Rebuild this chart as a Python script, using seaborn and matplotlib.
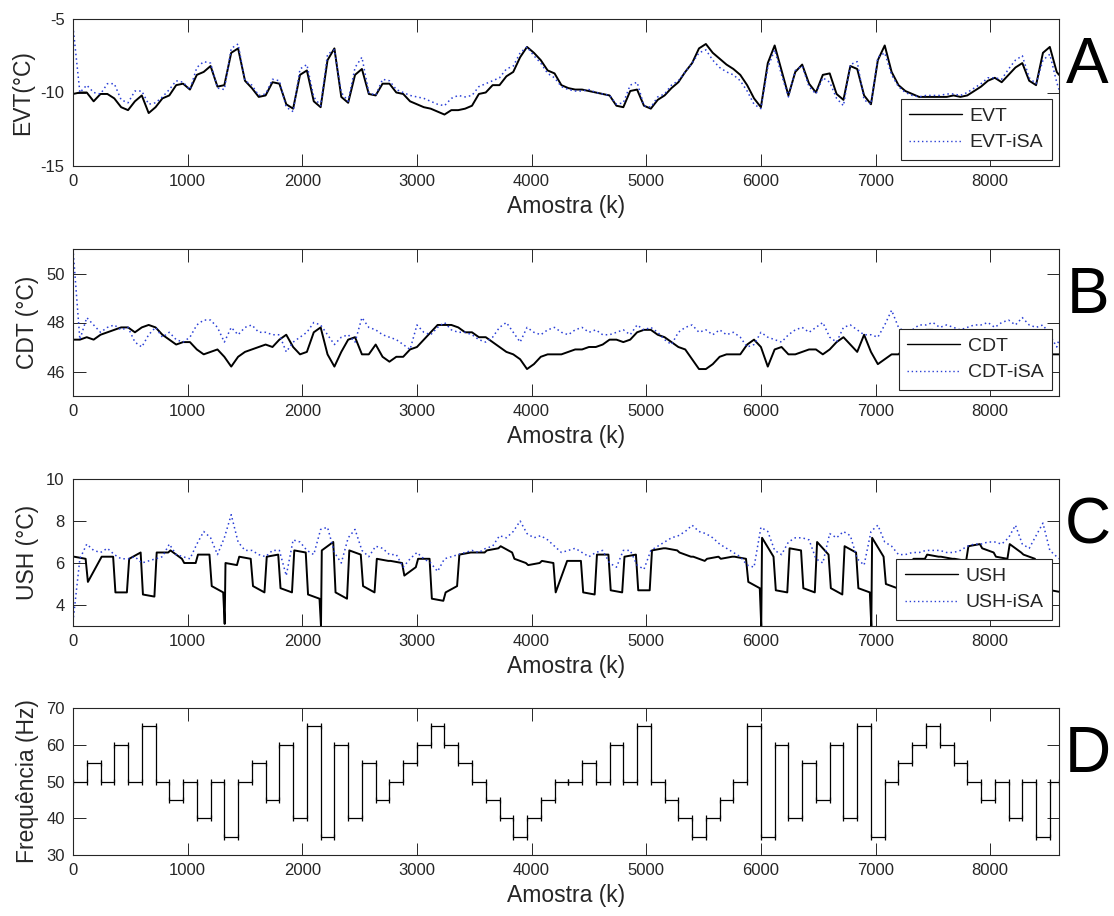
import numpy as np
import matplotlib
matplotlib.use("Agg")
import matplotlib.pyplot as plt
import seaborn as sns

# ---------------- data ----------------
# sample grid (k): every 60 samples plus the final sample
amostra = list(range(0, 8581, 60)) + [8600]

evt = [-10.1, -10.0, -10.0, -10.6, -10.1, -10.1, -10.4, -11.0, -11.2, -10.6,
       -10.2, -11.4, -11.0, -10.4, -10.2, -9.5, -9.4, -9.8, -8.8, -8.6,
       -8.2, -9.6, -9.5, -7.3, -7.0, -9.2, -9.7, -10.3, -10.2, -9.3,
       -9.4, -10.8, -11.1, -8.8, -8.5, -10.6, -11.0, -7.8, -7.0, -10.3,
       -10.7, -8.8, -8.4, -10.1, -10.2, -9.4, -9.4, -10.0, -10.1, -10.6,
       -10.8, -11.0, -11.1, -11.3, -11.5, -11.2, -11.2, -11.1, -10.9, -10.1,
       -10.0, -9.5, -9.5, -8.9, -8.6, -7.6, -6.9, -7.3, -7.8, -8.5,
       -8.7, -9.5, -9.7, -9.8, -9.8, -9.9, -10.0, -10.1, -10.2, -10.9,
       -11.0, -9.9, -9.8, -10.9, -11.1, -10.5, -10.2, -9.7, -9.3, -8.6,
       -8.0, -7.0, -6.7, -7.3, -7.7, -8.1, -8.4, -8.8, -9.5, -10.4,
       -11.0, -8.0, -6.8, -8.5, -10.2, -8.6, -8.1, -9.4, -10.0, -8.8,
       -8.7, -10.1, -10.5, -8.2, -8.4, -10.2, -10.8, -7.8, -6.8, -8.6,
       -9.5, -9.9, -10.1, -10.3, -10.3, -10.3, -10.3, -10.3, -10.2, -10.3,
       -10.2, -9.9, -9.6, -9.2, -9.0, -9.3, -8.8, -8.3, -8.0, -9.2,
       -9.5, -7.3, -6.9, -8.6, -8.8]

evt_isa = [-5.5, -10.0, -9.5, -10.0, -10.1, -9.4, -9.4, -10.5, -10.7, -9.9,
           -9.9, -10.8, -10.7, -10.3, -9.8, -9.2, -9.3, -9.8, -8.3, -7.9,
           -8.0, -9.7, -9.8, -7.0, -6.7, -9.2, -9.5, -10.2, -10.1, -9.1,
           -9.2, -11.0, -11.3, -8.4, -8.1, -10.3, -10.9, -7.4, -7.1, -10.0,
           -10.6, -8.3, -7.6, -10.0, -10.2, -9.1, -9.2, -9.8, -10.0, -10.2,
           -10.3, -10.4, -10.6, -10.8, -10.9, -10.4, -10.2, -10.3, -10.2, -9.6,
           -9.4, -9.2, -9.0, -8.4, -8.2, -7.3, -6.9, -7.5, -8.0, -8.7,
           -9.0, -9.6, -9.8, -9.9, -9.9, -9.8, -10.0, -10.1, -10.2, -10.8,
           -10.7, -9.5, -9.3, -10.9, -11.0, -10.3, -10.1, -9.5, -9.2, -8.6,
           -8.0, -7.3, -7.1, -7.8, -8.3, -8.6, -8.8, -9.2, -9.9, -10.8,
           -11.1, -8.3, -7.1, -8.8, -10.3, -8.5, -8.2, -9.6, -10.1, -9.0,
           -9.3, -10.4, -10.9, -8.1, -7.9, -10.5, -10.8, -7.6, -7.3, -8.8,
           -9.6, -10.0, -10.2, -10.3, -10.2, -10.2, -10.2, -10.1, -10.1, -10.2,
           -10.0, -9.7, -9.4, -9.0, -9.0, -9.1, -8.4, -7.8, -7.5, -9.0,
           -9.4, -7.8, -7.4, -9.3, -9.8]

cdt = [47.3, 47.3, 47.4, 47.3, 47.5, 47.6, 47.7, 47.8, 47.8, 47.6,
       47.8, 47.9, 47.8, 47.5, 47.3, 47.1, 47.2, 47.2, 46.9, 46.7,
       46.8, 46.9, 46.6, 46.2, 46.6, 46.8, 46.9, 47.0, 47.1, 47.0,
       47.3, 47.5, 47.0, 46.7, 46.8, 47.6, 47.8, 46.7, 46.2, 46.8,
       47.3, 47.4, 46.7, 46.7, 47.1, 46.6, 46.4, 46.6, 46.6, 46.9,
       47.0, 47.3, 47.6, 47.9, 47.9, 47.9, 47.8, 47.6, 47.6, 47.4,
       47.4, 47.2, 47.0, 46.8, 46.7, 46.5, 46.1, 46.3, 46.6, 46.7,
       46.7, 46.7, 46.8, 46.9, 46.9, 47.0, 47.0, 47.1, 47.3, 47.3,
       47.2, 47.3, 47.6, 47.7, 47.7, 47.5, 47.4, 47.2, 47.0, 46.9,
       46.5, 46.1, 46.1, 46.3, 46.6, 46.7, 46.7, 46.7, 47.1, 47.3,
       47.0, 46.2, 46.9, 47.0, 46.7, 46.7, 46.8, 46.9, 46.9, 46.7,
       46.9, 47.2, 47.4, 47.1, 46.8, 47.5, 46.8, 46.3, 46.5, 46.7,
       46.7, 47.0, 47.3, 47.6, 47.7, 47.7, 47.6, 47.5, 47.4, 47.2,
       47.1, 47.0, 47.0, 47.1, 47.2, 47.3, 47.2, 47.0, 47.1, 47.2,
       46.9, 46.8, 46.7, 46.7, 46.7]

cdt_isa = [51.0, 47.3, 48.2, 47.9, 47.6, 47.8, 47.9, 47.7, 47.8, 47.2,
           47.0, 47.5, 47.8, 47.4, 47.6, 47.3, 47.2, 47.4, 47.9, 48.1,
           48.1, 47.8, 47.2, 47.8, 47.5, 47.8, 47.9, 47.6, 47.6, 47.5,
           47.5, 46.8, 47.2, 47.4, 47.6, 48.0, 47.9, 47.5, 47.1, 47.4,
           47.5, 47.2, 48.2, 47.8, 47.7, 47.5, 47.4, 47.3, 47.1, 46.9,
           47.9, 47.6, 47.5, 47.8, 48.0, 47.7, 47.6, 47.6, 47.5, 47.3,
           47.2, 47.4, 47.8, 48.0, 47.6, 47.2, 47.8, 47.6, 47.5, 47.7,
           47.8, 47.6, 47.5, 47.7, 47.8, 47.6, 47.7, 47.5, 47.5, 47.6,
           47.7, 47.5, 47.9, 47.7, 47.8, 47.6, 47.3, 47.1, 47.6, 47.8,
           47.9, 47.6, 47.7, 47.5, 47.7, 47.5, 47.6, 47.4, 47.0, 47.1,
           47.6, 47.4, 47.3, 47.2, 47.5, 47.7, 47.8, 47.6, 47.8, 48.0,
           47.4, 47.2, 47.8, 47.9, 47.7, 47.5, 47.5, 47.4, 47.9, 48.5,
           47.8, 47.6, 47.7, 47.9, 47.9, 48.0, 47.8, 47.9, 47.8, 47.7,
           47.8, 47.9, 47.9, 48.0, 47.8, 48.0, 48.1, 47.9, 48.2, 47.9,
           47.8, 47.9, 47.5, 47.0, 47.3]

# USH: two readings per 120-sample block (near its start and near its end)
ush_k = [k for s in range(0, 8521, 120) for k in (s + 10, s + 110)]
ush = [6.3, 6.2, 5.1, 6.1, 6.3, 6.3, 4.6, 4.6, 6.2, 6.5,
       4.5, 4.4, 6.5, 6.5, 6.6, 6.2, 6.0, 6.0, 6.4, 6.4,
       4.9, 4.6, 6.0, 5.9, 6.3, 6.2, 4.9, 4.6, 6.3, 6.4,
       4.8, 4.6, 6.6, 6.5, 4.5, 4.3, 6.6, 7.0, 4.6, 4.3,
       6.6, 6.4, 4.9, 4.6, 6.2, 6.1, 6.1, 6.0, 5.4, 5.8,
       6.2, 6.2, 4.3, 4.2, 4.6, 4.9, 6.4, 6.5, 6.5, 6.5,
       6.6, 6.7, 6.8, 6.5, 6.2, 6.0, 5.9, 6.0, 6.1, 6.0,
       4.6, 6.1, 6.1, 6.1, 4.6, 4.5, 6.4, 6.4, 4.7, 4.6,
       6.3, 6.4, 4.7, 4.7, 6.6, 6.7, 6.7, 6.6, 6.5, 6.3,
       6.3, 6.1, 6.2, 6.3, 6.2, 6.3, 6.3, 6.2, 5.1, 4.8,
       7.2, 6.3, 4.7, 4.6, 6.7, 6.6, 4.8, 4.6, 7.0, 6.4,
       4.8, 4.5, 6.8, 6.5, 4.8, 4.6, 7.2, 6.3, 5.0, 4.8,
       4.8, 4.7, 6.2, 6.2, 6.4, 6.3, 6.3, 6.2, 6.2, 6.1,
       6.8, 6.9, 6.7, 6.5, 6.3, 6.2, 6.9, 6.5, 6.4, 6.2,
       5.0, 4.8, 4.7, 4.6]
# short downward spikes of USH at the 35 Hz steps
ush_pico_k = [1323, 2163, 6003, 6963]
ush_pico = [3.1, 3.0, 3.0, 3.0]

ush_isa = [3.2, 6.2, 6.9, 6.6, 6.5, 6.7, 6.4, 6.2, 6.2, 6.3,
           6.0, 6.1, 6.2, 6.3, 6.9, 6.4, 6.3, 6.2, 6.9, 7.5,
           7.2, 6.4, 7.2, 8.3, 7.0, 6.6, 6.6, 6.4, 6.3, 6.6,
           6.6, 5.4, 7.1, 7.0, 6.6, 6.4, 7.6, 7.7, 6.5, 6.0,
           7.2, 7.6, 6.6, 6.3, 6.8, 6.7, 6.4, 6.4, 5.8, 6.2,
           6.5, 6.2, 6.0, 5.6, 6.2, 6.3, 6.4, 6.5, 6.6, 6.5,
           6.7, 6.8, 7.3, 7.2, 7.5, 8.0, 7.4, 7.2, 7.3, 7.1,
           6.8, 6.5, 6.6, 6.7, 6.5, 6.3, 6.5, 6.6, 6.0, 5.8,
           6.6, 6.6, 5.9, 5.7, 6.6, 6.8, 7.0, 7.2, 7.3, 7.5,
           7.8, 7.5, 7.4, 7.2, 6.9, 6.7, 6.5, 6.3, 5.9, 5.8,
           7.7, 7.5, 6.6, 6.4, 7.0, 7.2, 7.2, 7.1, 6.2, 6.0,
           7.4, 7.2, 7.5, 7.3, 6.2, 5.9, 7.5, 7.8, 7.0, 6.8,
           6.4, 6.4, 6.5, 6.5, 6.6, 6.6, 6.6, 6.5, 6.5, 6.6,
           6.8, 6.9, 6.9, 7.0, 7.0, 6.9, 7.2, 7.8, 6.9, 6.7,
           7.3, 7.9, 6.6, 6.3, 6.2]

# compressor frequency: one level per block of 120 samples
freq_inicio = list(range(0, 8521, 120))
freq = [50, 55, 50, 60, 50, 65, 50, 45, 50, 40, 50, 35, 50, 55, 45, 60, 40, 65,
        35, 60, 40, 55, 45, 50, 55, 60, 65, 60, 55, 50, 45, 40, 35, 40, 45, 50,
        50, 55, 50, 60, 50, 65, 50, 45, 40, 35, 40, 45, 50, 65, 35, 60, 40, 55,
        45, 60, 40, 65, 35, 50, 55, 60, 65, 60, 55, 50, 45, 50, 40, 50, 35, 50]
freq_fim = freq_inicio[1:] + [8600]

x_ticks = [0, 1000, 2000, 3000, 4000, 5000, 6000, 7000, 8000]

# merge USH block readings with the spikes (sorted by sample)
_ush_pts = sorted(zip(ush_k + ush_pico_k, ush + ush_pico))
ush_x = [p[0] for p in _ush_pts]
ush_y = [p[1] for p in _ush_pts]

paineis = [
    ("EVT(°C)", "EVT", "EVT-iSA", amostra, evt, evt_isa, (-15, -5), [-15, -10, -5], "A"),
    ("CDT (°C)", "CDT", "CDT-iSA", amostra, cdt, cdt_isa, (45, 51), [46, 48, 50], "B"),
    ("USH (°C)", "USH", "USH-iSA", ush_x, ush_y, ush_isa, (3, 10), [4, 6, 8, 10], "C"),
]

# ---------------- style ----------------
sns.set_style("white")
plt.rcParams["font.family"] = ["Liberation Sans", "DejaVu Sans"]
plt.rcParams["axes.unicode_minus"] = False

GRAY = "#262626"
BLUE = "#2a3fd6"

W, H = 1114, 916
fig = plt.figure(figsize=(W / 100, H / 100), dpi=100)

left = 73 / W
width = (1059 - 73) / W
tops = [19, 249, 479, 708]
hgt = 147


def style_axes(ax, ylim, yticks):
    ax.set_xlim(0, 8600)
    ax.set_ylim(*ylim)
    ax.set_xticks(x_ticks)
    ax.set_yticks(yticks)
    ax.tick_params(direction="in", length=9, width=0.7, color=GRAY,
                   labelcolor=GRAY, labelsize=12, pad=6,
                   top=True, right=True, bottom=True, left=True)
    for s in ax.spines.values():
        s.set_color(GRAY)
        s.set_linewidth(0.8)
        s.set_visible(True)
    ax.set_xlabel("Amostra (k)", fontsize=16.5, color=GRAY, labelpad=4)
    ax.yaxis.label.set_fontsize(16.5)
    ax.yaxis.label.set_color(GRAY)
    ax.yaxis.labelpad = 5


axes = []
for t in tops:
    axes.append(fig.add_axes([left, 1 - (t + hgt) / H, width, hgt / H]))

for ax, (ylab, n1, n2, xb, y1, y2, ylim, yt, letra) in zip(axes[:3], paineis):
    sns.lineplot(x=xb, y=y1, ax=ax, color="black", linewidth=1.4,
                 label=n1, estimator=None, sort=False)
    sns.lineplot(x=amostra, y=y2, ax=ax, color=BLUE, linewidth=1.1,
                 linestyle=(0, (1, 2)), label=n2, estimator=None)
    style_axes(ax, ylim, yt)
    ax.set_ylabel(ylab)
    leg = ax.legend(loc="lower right", bbox_to_anchor=(0.993, 0.04),
                    fontsize=14, frameon=True, fancybox=False,
                    framealpha=1, edgecolor=GRAY, borderpad=0.45,
                    labelspacing=0.45, handlelength=2.7, handletextpad=0.4,
                    borderaxespad=0)
    leg.get_frame().set_linewidth(0.8)
    for h in leg.get_lines():
        h.set_linewidth(1.0)
    ax.text(1.029, 0.68, letra, transform=ax.transAxes, fontsize=46,
            ha="center", va="center", color="black")

# panel D: frequency steps
axd = axes[3]
sns.lineplot(x=freq_inicio + [8600], y=freq + [freq[-1]], ax=axd,
             color="black", linewidth=0.9, drawstyle="steps-post",
             estimator=None)
axd.plot(freq_inicio, freq, ls="none", marker="|", ms=5, mew=0.9,
         color="black")
axd.plot(freq_fim, freq, ls="none", marker="|", ms=5, mew=0.9,
         color="black")
style_axes(axd, (30, 70), [30, 40, 50, 60, 70])
axd.set_ylabel("Frequência (Hz)")
axd.text(1.029, 0.68, "D", transform=axd.transAxes, fontsize=46,
         ha="center", va="center", color="black")

fig.savefig("out.png", dpi=100)
